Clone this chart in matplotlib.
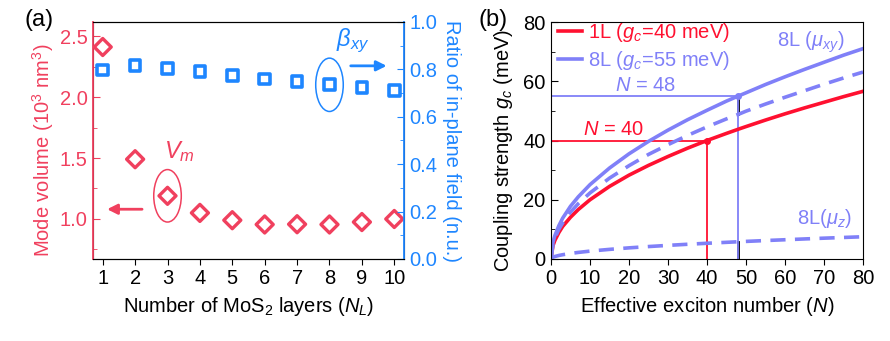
import matplotlib.pyplot as plt
from matplotlib.patches import Ellipse
from matplotlib.ticker import MultipleLocator

plt.rcParams['font.family'] = ['Liberation Sans', 'DejaVu Sans']
plt.rcParams['mathtext.fontset'] = 'custom'
plt.rcParams['mathtext.rm'] = 'Liberation Sans'
plt.rcParams['mathtext.it'] = 'Liberation Sans:italic'
plt.rcParams['font.size'] = 14.5

# panel (a) data
layers = [1, 2, 3, 4, 5, 6, 7, 8, 9, 10]
mode_volume = [2.41, 1.49, 1.19, 1.05, 0.99, 0.955, 0.957, 0.955, 0.975, 1.0]
beta_xy = [0.797, 0.815, 0.803, 0.79, 0.775, 0.76, 0.748, 0.735, 0.723, 0.71]

# panel (b) data
n_exc = [0, 0.5, 1, 2, 3, 5, 7, 10, 15, 20, 25, 30, 35, 40, 45, 48, 50, 55, 60, 65, 70, 75, 80]
g_1L = [0, 4.5, 6.3, 8.9, 11.0, 14.1, 16.7, 20.0, 24.5, 28.3, 31.6, 34.6, 37.4, 40.0,
        42.4, 43.8, 44.7, 46.9, 49.0, 51.0, 52.9, 54.8, 56.6]
g_8L = [0, 5.6, 7.9, 11.2, 13.8, 17.8, 21.0, 25.1, 30.7, 35.5, 39.7, 43.5, 47.0, 50.2,
        53.3, 55.0, 56.1, 58.9, 61.5, 64.0, 66.4, 68.8, 71.0]
g_8L_xy = [0, 5.0, 7.05, 10.0, 12.2, 15.8, 18.7, 22.3, 27.3, 31.5, 35.3, 38.6, 41.7, 44.6,
           47.3, 48.8, 49.9, 52.3, 54.6, 56.8, 59.0, 61.1, 63.1]
g_8L_z = [0, 0.6, 0.84, 1.19, 1.45, 1.88, 2.22, 2.66, 3.25, 3.76, 4.2, 4.6, 4.97, 5.31,
          5.63, 5.82, 5.94, 6.23, 6.5, 6.77, 7.03, 7.27, 7.51]

red_a = '#f0405e'
blue_a = '#1e86ff'
red_b = '#ff1030'
blue_b = '#8080f8'

fig = plt.figure(figsize=(8.9, 3.41), dpi=100)
ax1 = fig.add_axes([93 / 890, 82 / 341, 311 / 890, 237 / 341])
ax2 = ax1.twinx()

ax1.scatter(layers, mode_volume, marker='D', s=75, facecolor='none', edgecolor=red_a, linewidth=2.4, zorder=3)
ax2.scatter(layers, beta_xy, marker='s', s=60, facecolor='none', edgecolor=blue_a, linewidth=2.6, zorder=3)

ax1.set_xlim(0.7, 10.3)
ax1.set_ylim(0.672, 2.615)
ax2.set_ylim(0, 1.0)
ax1.set_xticks(layers)
ax1.yaxis.set_major_locator(MultipleLocator(0.5))
ax1.yaxis.set_minor_locator(MultipleLocator(0.25))
ax2.yaxis.set_major_locator(MultipleLocator(0.2))
ax2.yaxis.set_minor_locator(MultipleLocator(0.1))
ax1.tick_params(axis='y', which='both', direction='in', colors=red_a)
ax1.tick_params(axis='y', which='major', length=5, pad=4)
ax1.tick_params(axis='y', which='minor', length=3)
ax2.tick_params(axis='y', which='both', direction='in', colors=blue_a)
ax2.tick_params(axis='y', which='major', length=5, pad=4)
ax2.tick_params(axis='y', which='minor', length=3)
ax1.tick_params(axis='x', direction='out', length=4)
ax1.yaxis.set_major_formatter(plt.FormatStrFormatter('%.1f'))
ax2.yaxis.set_major_formatter(plt.FormatStrFormatter('%.1f'))
ax2.spines['left'].set_color(red_a)
ax2.spines['right'].set_color(blue_a)
ax2.spines['left'].set_linewidth(1.3)
ax2.spines['right'].set_linewidth(1.3)
ax1.set_ylabel('Mode volume (10$^3$ nm$^3$)', color=red_a)
ax1.yaxis.set_label_coords(-0.12, 0.46)
ax2.set_ylabel('Ratio of in-plane field (n.u.)', color=blue_a, rotation=270, labelpad=17)
ax1.set_xlabel('Number of MoS$_2$ layers ($N_L$)', labelpad=5)

ax1.add_patch(Ellipse((3, 1.19), 0.85, 0.43, fill=False, edgecolor=red_a, linewidth=1.1))
ax1.annotate('', xy=(1.05, 1.08), xytext=(2.3, 1.08),
             arrowprops=dict(arrowstyle='-|>', color=red_a, lw=2, mutation_scale=15))
ax1.text(2.9, 1.55, '$V_m$', color=red_a, fontsize=17, va='center')
ax2.add_patch(Ellipse((8, 0.735), 0.85, 0.225, fill=False, edgecolor=blue_a, linewidth=1.1))
ax2.annotate('', xy=(9.85, 0.815), xytext=(8.57, 0.815),
             arrowprops=dict(arrowstyle='-|>', color=blue_a, lw=2, mutation_scale=15))
ax2.text(8.2, 0.92, r'$\beta_{xy}$', color=blue_a, fontsize=17, va='center')
fig.text(0.028, 0.975, '(a)', fontsize=17, ha='left', va='top')

# panel (b)
ax3 = fig.add_axes([551 / 890, 82 / 341, 312 / 890, 237 / 341])
ax3.plot([0, 40], [40, 40], color=red_b, lw=1.3)
ax3.plot([40, 40], [0, 40], color=red_b, lw=1.3)
ax3.plot([0, 48], [55, 55], color=blue_b, lw=1.3)
ax3.plot([48, 48], [48.8, 55], color='black', lw=2)
ax3.plot([48, 48], [0, 5.8], color='black', lw=2)
ax3.plot([48, 48], [0, 55], color=blue_b, lw=1.3)
ax3.plot(n_exc, g_1L, color=red_b, lw=2.6, label='1L ($g_c$=40 meV)')
ax3.plot(n_exc, g_8L, color=blue_b, lw=2.6, label='8L ($g_c$=55 meV)')
ax3.plot(n_exc, g_8L_xy, color=blue_b, lw=2.6, dashes=(4.2, 2.6))
ax3.plot(n_exc, g_8L_z, color=blue_b, lw=2.6, dashes=(4.2, 2.6))
ax3.plot([40], [40], 'o', color=red_b, ms=4)
ax3.plot([48], [55], 'o', color=blue_b, ms=4)

ax3.set_xlim(0, 80)
ax3.set_ylim(0, 80)
ax3.xaxis.set_major_locator(MultipleLocator(10))
ax3.yaxis.set_major_locator(MultipleLocator(20))
ax3.yaxis.set_minor_locator(MultipleLocator(10))
ax3.tick_params(axis='y', which='both', direction='in')
ax3.tick_params(axis='y', which='major', length=5, pad=4)
ax3.tick_params(axis='y', which='minor', length=3)
ax3.tick_params(axis='x', direction='out', length=4)
ax3.set_xlabel('Effective exciton number ($N$)', labelpad=5)
ax3.set_ylabel('Coupling strength $g_c$ (meV)')
ax3.yaxis.set_label_coords(-0.115, 0.46)
leg = ax3.legend(loc='upper left', bbox_to_anchor=(-0.035, 1.08), frameon=False,
                 handlelength=1.2, handletextpad=0.3, labelspacing=0.25, fontsize=14.5)
for t, c in zip(leg.get_texts(), [red_b, blue_b]):
    t.set_color(c)
ax3.text(16.5, 58.7, '$N$ = 48', color=blue_b, fontsize=14.5, va='center')
ax3.text(8.2, 43.8, '$N$ = 40', color=red_b, fontsize=14.5, va='center')
ax3.text(58, 73, r'8L ($\mu_{xy}$)', color=blue_b, fontsize=14.5, va='center')
ax3.text(63, 13.8, r'8L($\mu_z$)', color=blue_b, fontsize=14.5, va='center')
fig.text(0.538, 0.975, '(b)', fontsize=17, ha='left', va='top')

fig.savefig('out.png', dpi=100)
